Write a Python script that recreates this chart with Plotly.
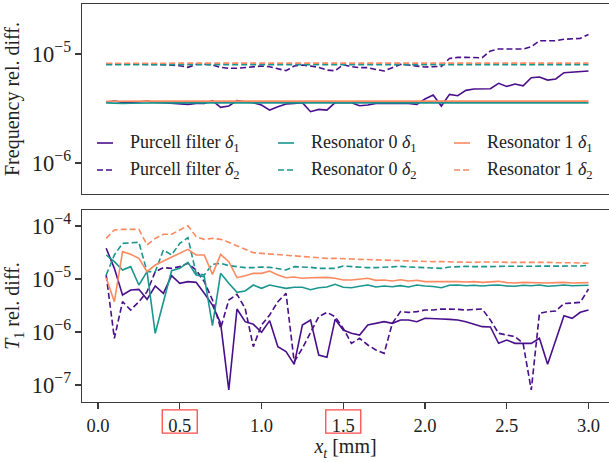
import numpy as np
import plotly.graph_objects as go

# ---------------- data ----------------
x_mm = [0.05, 0.10, 0.15, 0.20, 0.25, 0.30, 0.35, 0.40, 0.45, 0.50,
        0.55, 0.60, 0.65, 0.70, 0.75, 0.80, 0.85, 0.90, 0.95, 1.00,
        1.05, 1.10, 1.15, 1.20, 1.25, 1.30, 1.35, 1.40, 1.45, 1.50,
        1.55, 1.60, 1.65, 1.70, 1.75, 1.80, 1.85, 1.90, 1.95, 2.00,
        2.05, 2.10, 2.15, 2.20, 2.25, 2.30, 2.35, 2.40, 2.45, 2.50,
        2.55, 2.60, 2.65, 2.70, 2.75, 2.80, 2.85, 2.90, 2.95, 3.00]

# log10 of frequency relative difference (top panel)
freq_purcell_d1_log = [
    -5.443, -5.431, -5.443, -5.443, -5.440, -5.431, -5.443, -5.446, -5.453, -5.459,
    -5.462, -5.453, -5.453, -5.428, -5.489, -5.477, -5.428, -5.437, -5.446, -5.468,
    -5.514, -5.483, -5.459, -5.453, -5.446, -5.529, -5.508, -5.514, -5.446, -5.446,
    -5.447, -5.474, -5.468, -5.453, -5.450, -5.450, -5.450, -5.453, -5.462, -5.413,
    -5.376, -5.477, -5.370, -5.382, -5.333, -5.321, -5.318, -5.318, -5.269, -5.297,
    -5.275, -5.291, -5.217, -5.211, -5.239, -5.229, -5.171, -5.168, -5.162, -5.156]
freq_purcell_d2_log = [
    -5.092, -5.092, -5.095, -5.095, -5.089, -5.092, -5.095, -5.098, -5.101, -5.107,
    -5.122, -5.095, -5.092, -5.101, -5.122, -5.131, -5.131, -5.122, -5.116, -5.110,
    -5.116, -5.131, -5.153, -5.110, -5.101, -5.110, -5.122, -5.147, -5.153, -5.098,
    -5.116, -5.125, -5.125, -5.141, -5.156, -5.125, -5.095, -5.101, -5.107, -5.119,
    -5.116, -5.113, -5.040, -5.031, -5.031, -5.034, -5.034, -4.972, -4.954, -4.954,
    -4.954, -4.954, -4.933, -4.878, -4.878, -4.878, -4.865, -4.862, -4.856, -4.820]
freq_res0_d1_log = [
    -5.448, -5.452, -5.453, -5.452, -5.449, -5.448, -5.448, -5.448, -5.448, -5.448,
    -5.448, -5.448, -5.448, -5.448, -5.448, -5.448, -5.448, -5.448, -5.448, -5.448,
    -5.448, -5.448, -5.448, -5.448, -5.448, -5.448, -5.448, -5.448, -5.448, -5.448,
    -5.448, -5.448, -5.448, -5.448, -5.448, -5.448, -5.448, -5.448, -5.448, -5.448,
    -5.448, -5.448, -5.448, -5.448, -5.448, -5.448, -5.448, -5.448, -5.448, -5.448,
    -5.448, -5.448, -5.448, -5.448, -5.448, -5.448, -5.448, -5.448, -5.448, -5.448]
freq_res0_d2_log = [
    -5.097, -5.098, -5.098, -5.097, -5.097, -5.097, -5.097, -5.097, -5.097, -5.097,
    -5.097, -5.097, -5.097, -5.097, -5.097, -5.097, -5.097, -5.097, -5.097, -5.097,
    -5.097, -5.097, -5.097, -5.097, -5.097, -5.097, -5.097, -5.097, -5.097, -5.097,
    -5.097, -5.097, -5.097, -5.097, -5.097, -5.097, -5.097, -5.097, -5.097, -5.097,
    -5.097, -5.097, -5.097, -5.097, -5.097, -5.097, -5.097, -5.097, -5.097, -5.097,
    -5.097, -5.097, -5.097, -5.097, -5.097, -5.097, -5.097, -5.097, -5.097, -5.097]
freq_res1_d1_log = [
    -5.433, -5.434, -5.433, -5.432, -5.432, -5.432, -5.432, -5.432, -5.432, -5.432,
    -5.432, -5.432, -5.432, -5.432, -5.432, -5.432, -5.432, -5.432, -5.432, -5.432,
    -5.432, -5.432, -5.432, -5.432, -5.432, -5.432, -5.432, -5.432, -5.432, -5.432,
    -5.432, -5.432, -5.432, -5.432, -5.432, -5.432, -5.432, -5.432, -5.432, -5.432,
    -5.432, -5.432, -5.432, -5.432, -5.432, -5.432, -5.432, -5.432, -5.432, -5.432,
    -5.432, -5.432, -5.432, -5.432, -5.432, -5.432, -5.432, -5.432, -5.432, -5.432]
freq_res1_d2_log = [
    -5.084, -5.084, -5.083, -5.083, -5.083, -5.083, -5.083, -5.083, -5.083, -5.083,
    -5.083, -5.083, -5.083, -5.083, -5.083, -5.083, -5.083, -5.083, -5.083, -5.083,
    -5.083, -5.083, -5.083, -5.083, -5.083, -5.083, -5.083, -5.083, -5.083, -5.083,
    -5.083, -5.083, -5.083, -5.083, -5.083, -5.083, -5.083, -5.083, -5.083, -5.083,
    -5.083, -5.083, -5.083, -5.083, -5.083, -5.083, -5.083, -5.083, -5.083, -5.083,
    -5.083, -5.083, -5.083, -5.083, -5.083, -5.083, -5.083, -5.083, -5.083, -5.083]

# log10 of T1 relative difference (bottom panel)
t1_purcell_d1_log = [
    -4.421, -4.799, -5.302, -5.208, -5.195, -5.384, -5.132, -5.270, -4.937, -5.082,
    -5.050, -5.063, -5.270, -5.491, -5.836, -7.094, -5.566, -5.805, -5.855, -6.006,
    -5.786, -6.277, -6.371, -6.610, -5.868, -5.774, -6.434, -6.478, -5.761, -5.962,
    -6.025, -6.057, -5.868, -5.836, -5.805, -5.836, -5.774, -5.774, -5.805, -5.742,
    -5.742, -5.755, -5.761, -5.774, -5.805, -5.855, -5.899, -5.906, -6.214, -6.151,
    -6.214, -6.214, -6.214, -6.119, -6.610, -6.151, -5.692, -5.742, -5.629, -5.585]
t1_purcell_d2_log = [
    -4.925, -6.119, -5.428, -5.585, -5.428, -5.239, -4.862, -4.786, -4.799, -4.767,
    -4.704, -4.830, -5.050, -5.396, -5.931, -5.396, -5.289, -5.553, -6.277, -5.868,
    -5.679, -5.428, -5.270, -6.560, -6.308, -5.994, -5.711, -5.629, -5.711, -5.931,
    -6.214, -6.119, -6.245, -6.340, -6.403, -5.836, -5.616, -5.629, -5.616, -5.585,
    -5.585, -5.566, -5.566, -5.572, -5.585, -5.579, -5.566, -5.774, -6.025, -6.057,
    -6.088, -6.214, -7.094, -5.648, -5.616, -5.604, -5.465, -5.453, -5.440, -5.189]
t1_res0_d1_log = [
    -4.547, -4.673, -4.830, -4.767, -5.113, -4.862, -6.025, -5.428, -4.843, -4.799,
    -4.686, -4.925, -4.956, -5.881, -4.893, -5.082, -5.252, -5.226, -5.113, -5.176,
    -5.113, -5.145, -5.176, -5.157, -5.157, -5.201, -5.164, -5.151, -5.101, -5.157,
    -5.164, -5.138, -5.113, -5.151, -5.132, -5.145, -5.126, -5.151, -5.113, -5.132,
    -5.140, -5.164, -5.119, -5.113, -5.126, -5.119, -5.132, -5.119, -5.113, -5.132,
    -5.138, -5.119, -5.126, -5.113, -5.138, -5.126, -5.113, -5.126, -5.119, -5.119]
t1_res0_d2_log = [
    -4.925, -4.547, -4.327, -4.314, -4.308, -4.862, -4.862, -4.453, -4.547, -4.327,
    -4.220, -4.893, -4.925, -4.723, -4.704, -4.748, -4.767, -4.786, -4.786, -4.774,
    -4.780, -4.799, -4.830, -4.767, -4.767, -4.780, -4.799, -4.799, -4.799, -4.755,
    -4.767, -4.774, -4.786, -4.786, -4.774, -4.767, -4.761, -4.774, -4.780, -4.774,
    -4.780, -4.799, -4.774, -4.761, -4.761, -4.767, -4.774, -4.767, -4.761, -4.761,
    -4.755, -4.761, -4.767, -4.755, -4.755, -4.761, -4.761, -4.761, -4.755, -4.742]
t1_res1_d1_log = [
    -4.975, -5.428, -4.484, -4.535, -4.610, -4.862, -4.736, -4.660, -4.579, -4.516,
    -4.440, -4.547, -4.547, -4.912, -4.535, -4.673, -4.975, -4.937, -4.893, -4.893,
    -4.849, -4.925, -4.975, -4.962, -4.987, -4.975, -4.969, -4.969, -4.987, -5.019,
    -5.019, -5.000, -4.987, -5.025, -5.019, -5.038, -5.013, -5.038, -5.025, -5.050,
    -5.050, -5.038, -5.038, -5.050, -5.057, -5.050, -5.063, -5.050, -5.044, -5.069,
    -5.075, -5.063, -5.069, -5.063, -5.075, -5.069, -5.063, -5.075, -5.069, -5.069]
t1_res1_d2_log = [
    -4.233, -4.075, -4.063, -4.063, -4.063, -4.358, -4.233, -4.157, -4.157, -4.075,
    -3.994, -4.201, -4.252, -4.233, -4.252, -4.308, -4.371, -4.434, -4.503, -4.516,
    -4.528, -4.547, -4.560, -4.566, -4.579, -4.591, -4.597, -4.610, -4.610, -4.623,
    -4.623, -4.629, -4.635, -4.642, -4.648, -4.648, -4.654, -4.660, -4.660, -4.667,
    -4.673, -4.673, -4.679, -4.673, -4.679, -4.686, -4.679, -4.673, -4.679, -4.686,
    -4.679, -4.686, -4.686, -4.679, -4.686, -4.692, -4.686, -4.692, -4.698, -4.704]

series_names = ["Purcell filter", "Resonator 0", "Resonator 1"]
deltas = [1, 2]
x_tick_vals = [0.0, 0.5, 1.0, 1.5, 2.0, 2.5, 3.0]
x_tick_text = ["0.0", "0.5", "1.0", "1.5", "2.0", "2.5", "3.0"]
highlighted_ticks = [0.5, 1.5]

# ---------------- style ----------------
colors = {"Purcell filter": "#4a0f8a", "Resonator 0": "#1b968f", "Resonator 1": "#fc8a60"}
FONT = "Liberation Serif"
TXT = "#222222"
AXC = "#3a3a3a"
DASH = "6px,3px"
W, H = 609, 462
ML, MR, MT, MB = 82, 0, 4, 60
PW, PH = W - ML - MR, H - MT - MB

freq = {
    ("Purcell filter", 1): freq_purcell_d1_log, ("Purcell filter", 2): freq_purcell_d2_log,
    ("Resonator 0", 1): freq_res0_d1_log, ("Resonator 0", 2): freq_res0_d2_log,
    ("Resonator 1", 1): freq_res1_d1_log, ("Resonator 1", 2): freq_res1_d2_log,
}
t1 = {
    ("Purcell filter", 1): t1_purcell_d1_log, ("Purcell filter", 2): t1_purcell_d2_log,
    ("Resonator 0", 1): t1_res0_d1_log, ("Resonator 0", 2): t1_res0_d2_log,
    ("Resonator 1", 1): t1_res1_d1_log, ("Resonator 1", 2): t1_res1_d2_log,
}


def line_style(name, d):
    return dict(color=colors[name], width=1.6, dash=("solid" if d == 1 else DASH))


fig = go.Figure()
for name in series_names:
    for d in deltas:
        fig.add_trace(go.Scatter(x=x_mm, y=np.power(10.0, freq[(name, d)]), mode="lines",
                                 line=line_style(name, d), showlegend=False,
                                 xaxis="x", yaxis="y", name=f"{name} δ{d}"))
for name in series_names:
    for d in deltas:
        fig.add_trace(go.Scatter(x=x_mm, y=np.power(10.0, t1[(name, d)]), mode="lines",
                                 line=line_style(name, d), showlegend=False,
                                 xaxis="x2", yaxis="y2", name=f"{name} δ{d}"))

# ---- legend drawn in the matplotlib layout (3 columns, column-major) ----
leg_col_px = [97, 278, 454]      # handle start (pixels from left)
leg_row_px = [143, 170]          # row centre (pixels from top)
HANDLE, GAP = 16, 15
shapes, annotations = [], []


def px2paper(px, py):
    return (px - ML) / PW, (H - MB - py) / PH


for ci, name in enumerate(series_names):
    for ri, d in enumerate(deltas):
        hx0, hy = px2paper(leg_col_px[ci], leg_row_px[ri])
        hx1, _ = px2paper(leg_col_px[ci] + HANDLE, leg_row_px[ri])
        tx, _ = px2paper(leg_col_px[ci] + HANDLE + GAP, leg_row_px[ri])
        shapes.append(dict(type="line", xref="paper", yref="paper", x0=hx0, x1=hx1,
                           y0=hy, y1=hy, line=line_style(name, d)))
        annotations.append(dict(xref="paper", yref="paper", x=tx, y=hy, xanchor="left",
                                yanchor="middle", showarrow=False,
                                text=f"{name} <i>δ</i><sub>{d}</sub>",
                                font=dict(family=FONT, size=18, color=TXT)))

# red highlight boxes around selected tick labels
for t in highlighted_ticks:
    shapes.append(dict(type="rect", xref="x2", yref="paper", x0=t - 0.107, x1=t + 0.107,
                       y0=-0.078, y1=-0.020, line=dict(color="#ff4a4a", width=1.3),
                       fillcolor="rgba(0,0,0,0)"))

XR = [-0.0979, 3.1254]
common_x = dict(range=XR, showgrid=False, zeroline=False, showline=True, linecolor=AXC,
                linewidth=1.3, mirror=True, automargin=False)
common_y = dict(type="log", showgrid=False, zeroline=False, showline=True, linecolor=AXC,
                linewidth=1.3, mirror=False, ticks="outside", ticklen=6, tickcolor=AXC,
                tickwidth=1.2, dtick=1, exponentformat="power", automargin=False,
                tickfont=dict(family=FONT, size=18, color=TXT))

fig.update_layout(
    width=W, height=H,
    margin=dict(l=ML, r=MR, t=MT, b=MB),
    paper_bgcolor="white", plot_bgcolor="white",
    font=dict(family=FONT, size=19, color=TXT),
    showlegend=False,
    hovermode=False,
    xaxis=dict(domain=[0, 1], anchor="y", showticklabels=False, ticks="", **common_x),
    yaxis=dict(domain=[0.5226, 1], anchor="x", range=[-6.284, -4.541],
               title=dict(text="Frequency rel. diff.", standoff=6,
                          font=dict(family=FONT, size=20, color=TXT)), **common_y),
    xaxis2=dict(domain=[0, 1], anchor="y2", ticks="outside", ticklen=6, tickcolor=AXC,
                tickwidth=1.2, tickvals=x_tick_vals, ticktext=x_tick_text,
                tickfont=dict(family=FONT, size=18.5, color=TXT),
                title=dict(text="<i>x</i><sub><i>t</i></sub> [mm]", standoff=0,
                           font=dict(family=FONT, size=20, color=TXT)), **common_x),
    yaxis2=dict(domain=[0, 0.4824], anchor="x2", range=[-7.321, -3.698],
                title=dict(text="<i>T</i><sub>1</sub> rel. diff.", standoff=6,
                           font=dict(family=FONT, size=20, color=TXT)), **common_y),
    shapes=shapes,
    annotations=annotations,
)

# remove the browser's default 8px page margin so the figure fills the window exactly
fig.write_html("out.html", config={"displayModeBar": False, "staticPlot": True},
               post_script="document.body.style.margin='0px';document.body.style.overflow='hidden';")
